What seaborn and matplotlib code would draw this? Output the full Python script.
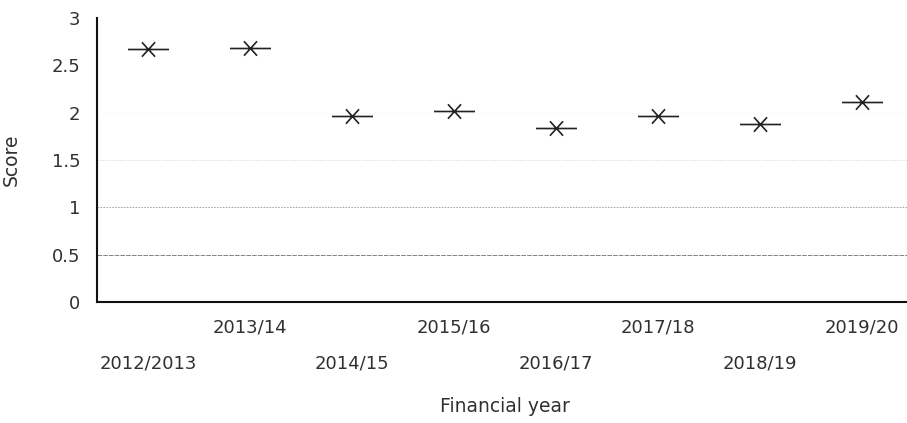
import matplotlib
matplotlib.use("Agg")
import matplotlib.pyplot as plt
import seaborn as sns
import pandas as pd
from matplotlib.path import Path
from matplotlib.markers import MarkerStyle

# ---- data ----
years = ["2012/2013", "2013/14", "2014/15", "2015/16",
         "2016/17", "2017/18", "2018/19", "2019/20"]
scores = [2.67, 2.68, 1.96, 2.02, 1.84, 1.97, 1.88, 2.11]
y_ticks = [0, 0.5, 1, 1.5, 2, 2.5, 3]
y_tick_labels = ["0", "0.5", "1", "1.5", "2", "2.5", "3"]

df = pd.DataFrame({"Financial year": years, "Score": scores})

sns.set_style("white")
plt.rcParams["font.family"] = ["DejaVu Sans"]
text_color = "#303030"

fig = plt.figure(figsize=(9.07, 4.23), dpi=100)
ax = fig.add_axes([97 / 907, 1 - 302 / 423, (913 - 97) / 907, (302 - 18) / 423])

# custom "star" marker: long horizontal dash plus a small X
a = 0.32
verts = [(-1, 0), (1, 0), (-a, -a * 1.1), (a, a * 1.1), (-a, a * 1.1), (a, -a * 1.1)]
codes = [Path.MOVETO, Path.LINETO, Path.MOVETO, Path.LINETO, Path.MOVETO, Path.LINETO]
star = MarkerStyle(Path(verts, codes))

sns.scatterplot(data=df, x="Financial year", y="Score", ax=ax,
                marker=star, s=29.5 ** 2, color="#222222",
                edgecolor="#222222", linewidth=1.2, legend=False, zorder=3)

ax.set_xlim(-0.5, len(years) - 0.5)
ax.set_ylim(0, 3)
ax.set_yticks(y_ticks)
ax.set_yticklabels(y_tick_labels)
ax.set_xticks(range(len(years)))
ax.set_xticklabels(years)

# gridlines (faded like the scan)
ax.yaxis.grid(True)
grid_styles = [
    (0.0, "none", "-"),
    (0.55, "#606060", (0, (6, 1.5))),
    (0.6, "#9a9a9a", (0, (2, 1.5))),
    (0.5, "#d0d0d0", (0, (2, 2))),
    (0.4, "#ececec", (0, (2, 3))),
    (0.0, "none", "-"),
    (0.0, "none", "-"),
]
for gl, (lw, c, ls) in zip(ax.yaxis.get_gridlines(), grid_styles):
    gl.set_linewidth(lw)
    gl.set_color(c)
    gl.set_linestyle(ls)

for side in ["top", "right"]:
    ax.spines[side].set_visible(False)
for side in ["left", "bottom"]:
    ax.spines[side].set_color("#111111")
    ax.spines[side].set_linewidth(1.5)

ax.tick_params(axis="both", length=0, labelsize=13, colors=text_color)
ax.tick_params(axis="y", pad=12)
for i, t in enumerate(ax.xaxis.get_major_ticks()):
    t.set_pad(12 if i % 2 == 1 else 38)

ax.set_xlabel("Financial year", fontsize=13.5, color=text_color)
ax.xaxis.set_label_coords(0.5, -0.335)
ax.set_ylabel("Score", fontsize=13.5, color=text_color)
ax.yaxis.set_label_coords(-0.093, 0.5)

fig.savefig("out.png", dpi=100)
